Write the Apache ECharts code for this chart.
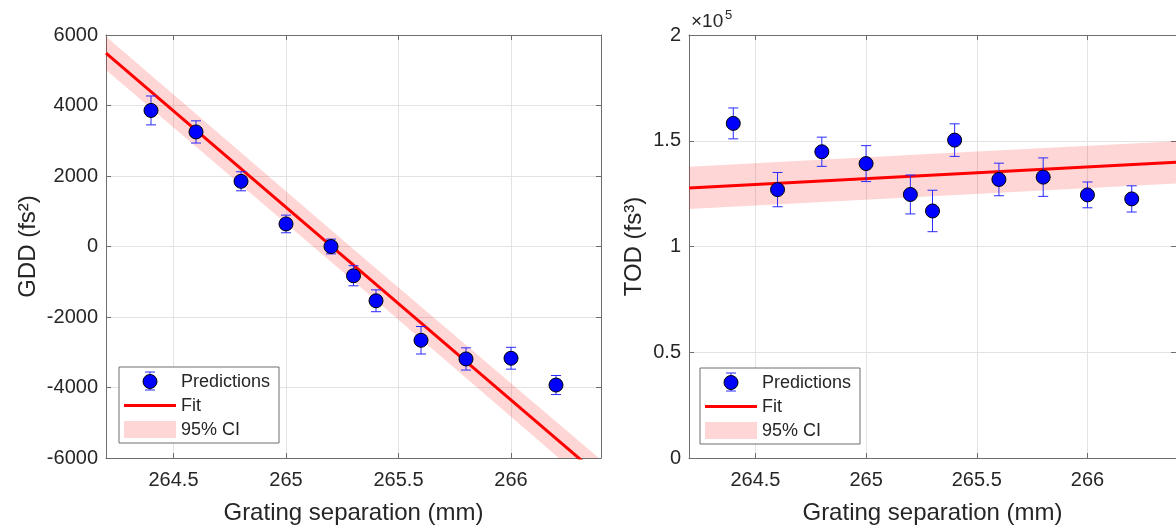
<!DOCTYPE html>
<html>
<head>
<meta charset="utf-8">
<script src="https://cdn.jsdelivr.net/npm/echarts@6/dist/echarts.min.js"></script>
<style>
html,body{margin:0;padding:0;background:#fff;}
#c{width:1176px;height:530px;}
</style>
</head>
<body>
<div id="c"></div>
<script>
// ---- data ----
const sep = [264.4, 264.6, 264.8, 265.0, 265.2, 265.3, 265.4, 265.6, 265.8, 266.0, 266.2];
const gdd = [3860, 3250, 1850, 640, 0, -830, -1540, -2660, -3190, -3170, -3930];
const gddErr = [410, 315, 270, 250, 210, 285, 310, 390, 315, 310, 270];
const tod = [158200, 126900, 144800, 139200, 124600, 116800, 150300, 131700, 132800, 124400, 122500];
const todErr = [7300, 8100, 6900, 8500, 9200, 9800, 7700, 7700, 9100, 6100, 6200];

const fitX = [264.2, 266.4];
const gddFit = [5484, -6541];
const todFit = [127700, 139800];

const ciX = [264.2, 265.3, 266.4];
const gddCiLow = [5009, -979, -7031];
const gddCiHigh = [5959, -79, -6051];
const todCiLow = [117700, 123700, 129800];
const todCiHigh = [137700, 143900, 149800];

// ---- styles ----
const FONT = 'Liberation Sans, Arial, Helvetica, sans-serif';
const TXT = '#262626';
const AX = '#6e6e6e';
const GRIDC = '#e3e3e3';
const BLUE = '#0000ff';
const EBAR = '#2a2aff';
const CI = 'rgba(255,0,0,0.16)';

const grids = [
  {left: 106, top: 35, width: 495, height: 423},
  {left: 689, top: 35, width: 495, height: 423}
];

function xAx(gi, top) {
  return {
    type: 'value', gridIndex: gi, min: 264.2, max: 266.4,
    position: top ? 'top' : 'bottom',
    name: top ? '' : 'Grating separation (mm)',
    nameLocation: 'middle', nameGap: 43,
    nameTextStyle: {fontSize: 24, color: TXT, fontFamily: FONT},
    axisLine: {show: true, onZero: false, lineStyle: {color: AX, width: 1}},
    axisTick: {show: true, inside: true, length: 5, lineStyle: {color: AX}},
    axisLabel: {
      show: !top, margin: 12, fontSize: 20, color: TXT, fontFamily: FONT,
      showMinLabel: false, showMaxLabel: false,
      formatter: v => (Math.abs(v * 2 - Math.round(v * 2)) < 1e-6 ? String(v) : '')
    },
    splitLine: {show: !top, lineStyle: {color: GRIDC, width: 1}}
  };
}
function yAx(gi, right, min, max, interval, fmt, name, gap) {
  return {
    type: 'value', gridIndex: gi, min: min, max: max, interval: interval,
    position: right ? 'right' : 'left',
    name: right ? '' : name,
    nameLocation: 'middle', nameGap: gap, nameRotate: 90,
    nameTextStyle: {fontSize: 24, color: TXT, fontFamily: FONT},
    axisLine: {show: true, onZero: false, lineStyle: {color: AX, width: 1}},
    axisTick: {show: true, inside: true, length: 5, lineStyle: {color: AX}},
    axisLabel: {show: !right, margin: 8, fontSize: 20, color: TXT, fontFamily: FONT, formatter: fmt},
    splitLine: {show: !right, lineStyle: {color: GRIDC, width: 1}}
  };
}

function errRender(params, api) {
  const x = api.value(0), lo = api.value(1), hi = api.value(2);
  const a = api.coord([x, hi]), b = api.coord([x, lo]);
  const w = 5;
  const st = {stroke: EBAR, lineWidth: 1};
  return {type: 'group', children: [
    {type: 'line', shape: {x1: a[0], y1: a[1], x2: b[0], y2: b[1]}, style: st},
    {type: 'line', shape: {x1: a[0] - w, y1: a[1], x2: a[0] + w, y2: a[1]}, style: st},
    {type: 'line', shape: {x1: b[0] - w, y1: b[1], x2: b[0] + w, y2: b[1]}, style: st}
  ]};
}
function bandRender(lowArr, highArr) {
  return function (params, api) {
    const pts = [];
    for (let i = 0; i < ciX.length; i++) pts.push(api.coord([ciX[i], highArr[i]]));
    for (let i = ciX.length - 1; i >= 0; i--) pts.push(api.coord([ciX[i], lowArr[i]]));
    return {type: 'polygon', shape: {points: pts}, style: {fill: CI}};
  };
}

function panelSeries(xi, yi, vals, errs, fit, lo, hi) {
  return [
    {
      type: 'custom', name: '95% CI', xAxisIndex: xi, yAxisIndex: yi, clip: true, silent: true,
      renderItem: bandRender(lo, hi), data: [[ciX[0], fit[0]]], z: 1
    },
    {
      type: 'line', name: 'Fit', xAxisIndex: xi, yAxisIndex: yi, symbol: 'none', clip: true,
      lineStyle: {color: '#ff0000', width: 3}, data: fitX.map((x, i) => [x, fit[i]]), z: 2, silent: true
    },
    {
      type: 'custom', name: 'Predictions', xAxisIndex: xi, yAxisIndex: yi, renderItem: errRender,
      encode: {x: 0, y: [1, 2]},
      data: sep.map((x, i) => [x, vals[i] - errs[i], vals[i] + errs[i]]), z: 3, silent: true
    },
    {
      type: 'scatter', name: 'Predictions', xAxisIndex: xi, yAxisIndex: yi, symbol: 'circle', symbolSize: 14,
      itemStyle: {color: BLUE, borderColor: '#000', borderWidth: 1, opacity: 1},
      data: sep.map((x, i) => [x, vals[i]]), z: 4, silent: true
    }
  ];
}

function legendGraphic(ox, oy) {
  const t = (txt, y) => ({type: 'text', x: ox + 62, y: oy + y,
    style: {text: txt, fontSize: 18, fill: TXT, fontFamily: FONT, verticalAlign: 'middle'}});
  const eb = {stroke: EBAR, lineWidth: 1};
  return [
    {type: 'rect', shape: {x: ox, y: oy, width: 160, height: 76}, style: {fill: '#fff', stroke: AX, lineWidth: 1}, z: 100},
    {type: 'line', shape: {x1: ox + 31, y1: oy + 5, x2: ox + 31, y2: oy + 23}, style: eb, z: 101},
    {type: 'line', shape: {x1: ox + 26, y1: oy + 5, x2: ox + 36, y2: oy + 5}, style: eb, z: 101},
    {type: 'line', shape: {x1: ox + 26, y1: oy + 23, x2: ox + 36, y2: oy + 23}, style: eb, z: 101},
    {type: 'circle', shape: {cx: ox + 31, cy: oy + 14.5, r: 7}, style: {fill: BLUE, stroke: '#000', lineWidth: 1}, z: 102},
    {type: 'line', shape: {x1: ox + 5, y1: oy + 38.5, x2: ox + 57, y2: oy + 38.5}, style: {stroke: '#ff0000', lineWidth: 3}, z: 101},
    {type: 'rect', shape: {x: ox + 5, y: oy + 54, width: 52, height: 17}, style: {fill: CI}, z: 101},
    Object.assign(t('Predictions', 15), {z: 103}),
    Object.assign(t('Fit', 39), {z: 103}),
    Object.assign(t('95% CI', 63), {z: 103})
  ];
}

const chart = echarts.init(document.getElementById('c'), null, {renderer: 'canvas'});
chart.setOption({
  animation: false,
  backgroundColor: '#ffffff',
  textStyle: {fontFamily: FONT},
  grid: grids,
  xAxis: [xAx(0, false), xAx(0, true), xAx(1, false), xAx(1, true)],
  yAxis: [
    yAx(0, false, -6000, 6000, 2000, v => String(v), 'GDD (fs²)', 66),
    yAx(0, true, -6000, 6000, 2000, v => String(v), '', 0),
    yAx(1, false, 0, 200000, 50000, v => String(v / 100000), 'TOD (fs³)', 43),
    yAx(1, true, 0, 200000, 50000, v => String(v / 100000), '', 0)
  ],
  series: [].concat(
    panelSeries(0, 0, gdd, gddErr, gddFit, gddCiLow, gddCiHigh),
    panelSeries(2, 2, tod, todErr, todFit, todCiLow, todCiHigh)
  ),
  graphic: [].concat(
    legendGraphic(119, 367),
    legendGraphic(700, 368),
    [
      {type: 'text', x: 691, y: 31, style: {text: '×10', fontSize: 19, fill: TXT, fontFamily: FONT, verticalAlign: 'bottom'}},
      {type: 'text', x: 725, y: 22, style: {text: '5', fontSize: 13, fill: TXT, fontFamily: FONT, verticalAlign: 'bottom'}}
    ]
  )
});
</script>
</body>
</html>
